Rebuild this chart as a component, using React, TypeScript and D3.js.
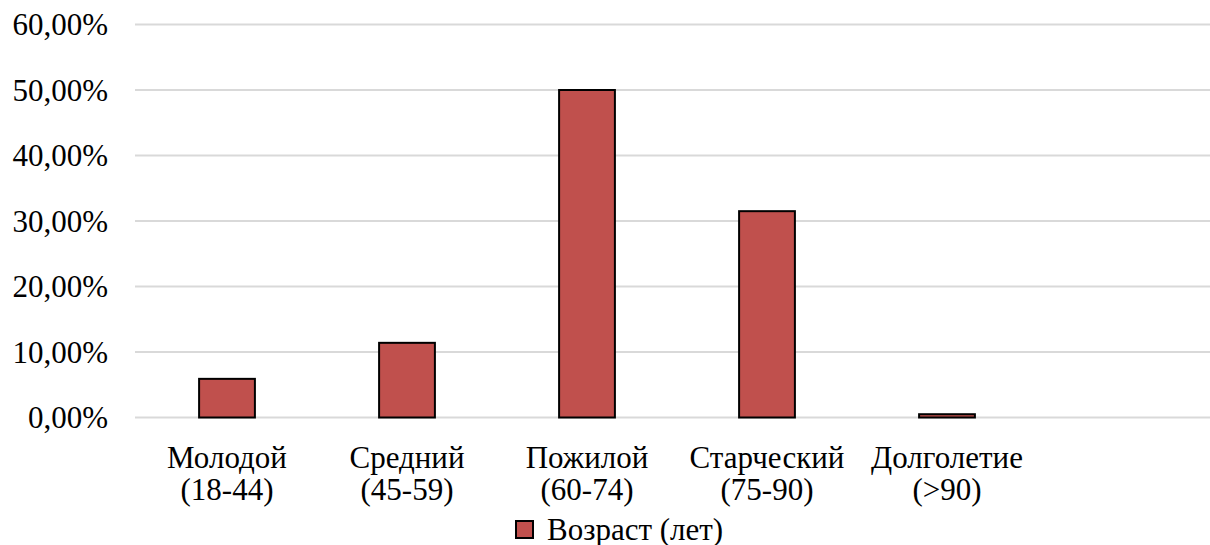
import React from "react";
import * as d3 from "d3";

const categories = [
  ["Молодой", "(18-44)"],
  ["Средний", "(45-59)"],
  ["Пожилой", "(60-74)"],
  ["Старческий", "(75-90)"],
  ["Долголетие", "(>90)"],
  ["", ""],
];
const values = [5.9, 11.4, 50.0, 31.5, 0.5, null];
const yTicks = [0, 10, 20, 30, 40, 50, 60];
const seriesName = "Возраст (лет)";

const W = 1210;
const H = 545;
const FONT = '"Liberation Serif"';
const FS = 31;

export default function App() {
  const x = d3
    .scaleBand<number>()
    .domain(categories.map((_, i) => i))
    .range([137, 1217])
    .paddingInner(0.69)
    .paddingOuter(0.345);
  const y = d3.scaleLinear().domain([0, 60]).range([417.5, 24.5]);
  const fmt = (v: number) => v.toFixed(2).replace(".", ",") + "%";
  const textStyle = { fontFamily: FONT, fontSize: FS };

  return (
    <svg
      width={W}
      height={H}
      style={{ position: "absolute", left: 0, top: 0, background: "#fff" }}
    >
      {yTicks.map((t) => (
        <g key={t}>
          <line x1={135} x2={W} y1={y(t)} y2={y(t)} stroke="#d9d9d9" strokeWidth={2} />
          <text x={108} y={y(t)} dy="0.35em" textAnchor="end" style={textStyle} fill="#000">
            {fmt(t)}
          </text>
        </g>
      ))}
      {values.map((v, i) =>
        v == null ? null : (
          <rect
            key={i}
            x={x(i)!}
            y={y(v)}
            width={x.bandwidth()}
            height={y(0) - y(v)}
            fill="#C0504D"
            stroke="#000"
            strokeWidth={2}
          />
        )
      )}
      {categories.map((c, i) => {
        const cx = x(i)! + x.bandwidth() / 2;
        return (
          <text key={i} textAnchor="middle" style={textStyle} fill="#000">
            <tspan x={cx} y={468}>{c[0]}</tspan>
            <tspan x={cx} y={500}>{c[1]}</tspan>
          </text>
        );
      })}
      <rect x={516} y={521} width={17} height={17} fill="#C0504D" stroke="#000" strokeWidth={2} />
      <text x={547} y={540} style={textStyle} fill="#000">{seriesName}</text>
    </svg>
  );
}
